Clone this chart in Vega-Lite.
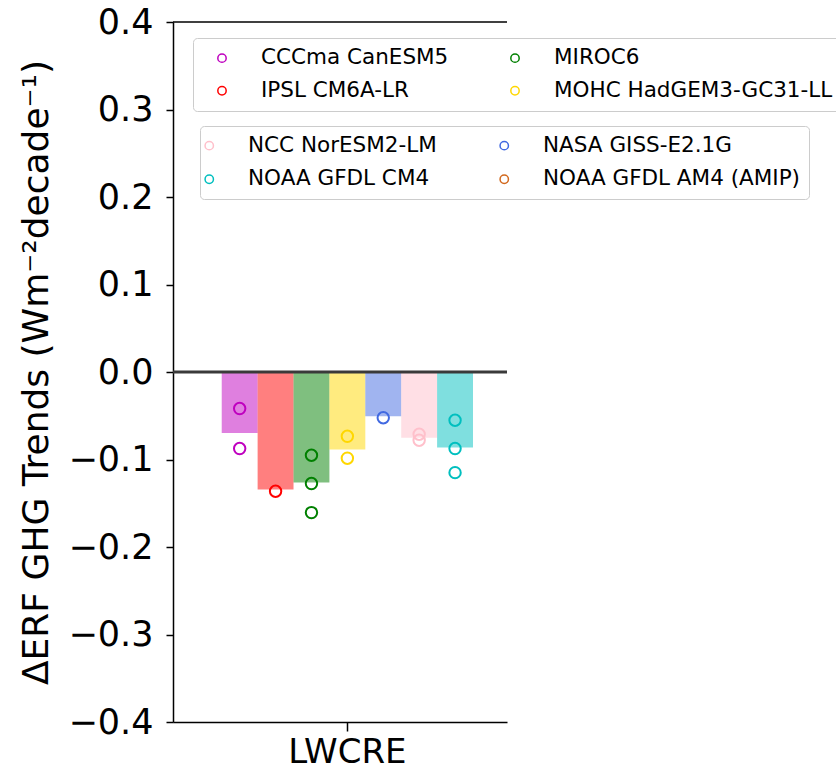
{
  "$schema": "https://vega.github.io/schema/vega-lite/v6.json",
  "width": 334,
  "height": 700,
  "autosize": {"type": "none"},
  "padding": {"left": 173, "top": 22, "right": 329, "bottom": 49},
  "background": "white",
  "config": {"view": {"stroke": null}, "font": "DejaVu Sans"},
  "datasets": {
    "bars": [
      {"variable": "LWCRE", "model": "CCCma CanESM5", "trend": -0.0697},
      {"variable": "LWCRE", "model": "IPSL CM6A-LR", "trend": -0.1344},
      {"variable": "LWCRE", "model": "MIROC6", "trend": -0.1264},
      {"variable": "LWCRE", "model": "MOHC HadGEM3-GC31-LL", "trend": -0.0887},
      {"variable": "LWCRE", "model": "NASA GISS-E2.1G", "trend": -0.0506},
      {"variable": "LWCRE", "model": "NCC NorESM2-LM", "trend": -0.075},
      {"variable": "LWCRE", "model": "NOAA GFDL CM4", "trend": -0.0864}
    ],
    "runs": [
      {"variable": "LWCRE", "model": "CCCma CanESM5", "trend": -0.0418},
      {"variable": "LWCRE", "model": "CCCma CanESM5", "trend": -0.0875},
      {"variable": "LWCRE", "model": "IPSL CM6A-LR", "trend": -0.1363},
      {"variable": "LWCRE", "model": "MIROC6", "trend": -0.0952},
      {"variable": "LWCRE", "model": "MIROC6", "trend": -0.1275},
      {"variable": "LWCRE", "model": "MIROC6", "trend": -0.1607},
      {"variable": "LWCRE", "model": "MOHC HadGEM3-GC31-LL", "trend": -0.0735},
      {"variable": "LWCRE", "model": "MOHC HadGEM3-GC31-LL", "trend": -0.0985},
      {"variable": "LWCRE", "model": "NASA GISS-E2.1G", "trend": -0.0523},
      {"variable": "LWCRE", "model": "NCC NorESM2-LM", "trend": -0.0712},
      {"variable": "LWCRE", "model": "NCC NorESM2-LM", "trend": -0.078},
      {"variable": "LWCRE", "model": "NOAA GFDL CM4", "trend": -0.0552},
      {"variable": "LWCRE", "model": "NOAA GFDL CM4", "trend": -0.0875},
      {"variable": "LWCRE", "model": "NOAA GFDL CM4", "trend": -0.115}
    ]
  },
  "layer": [
    {
      "data": {"name": "bars"},
      "mark": {"type": "bar", "opacity": 0.5},
      "encoding": {
        "x": {"field": "variable", "type": "nominal", "scale": {"paddingInner": 0, "paddingOuter": 0.1646, "align": 0.589},
          "axis": {"title": null, "labelAngle": 0, "labelFontSize": 34, "labelColor": "black", "tickSize": 9, "tickColor": "black", "tickWidth": 1.5, "domainColor": "black", "domainWidth": 1.5, "labelPadding": 4}},
        "xOffset": {"field": "model", "type": "nominal", "scale": {"domain": ["CCCma CanESM5", "IPSL CM6A-LR", "MIROC6", "MOHC HadGEM3-GC31-LL", "NASA GISS-E2.1G", "NCC NorESM2-LM", "NOAA GFDL CM4"], "paddingInner": 0, "paddingOuter": 0}},
        "y": {"field": "trend", "type": "quantitative", "scale": {"domain": [-0.4, 0.4], "nice": false, "zero": false},
          "axis": {"values": [-0.4, -0.3, -0.2, -0.1, 0, 0.1, 0.2, 0.3, 0.4], "format": ".1f", "grid": false,
            "title": "ΔERF GHG Trends (Wm⁻²decade⁻¹)", "titleFontSize": 36, "titleFontWeight": "normal", "titleColor": "black",
            "titleBaseline": "alphabetic", "titleX": -126, "titleY": 350,
            "labelFontSize": 35, "labelColor": "black", "labelPadding": 13, "tickSize": 7, "tickColor": "black", "tickWidth": 1.5,
            "domainColor": "black", "domainWidth": 1.5}},
        "color": {"field": "model", "type": "nominal", "legend": null,
          "scale": {"domain": ["CCCma CanESM5", "IPSL CM6A-LR", "MIROC6", "MOHC HadGEM3-GC31-LL", "NASA GISS-E2.1G", "NCC NorESM2-LM", "NOAA GFDL CM4"],
            "range": ["#bf00bf", "#ff0000", "#008000", "#ffd700", "#4169e1", "#ffc0cb", "#00bfbf"]}}
      }
    },
    {
      "data": {"values": [{}]},
      "mark": {"type": "rule", "color": "#3a3a3a", "strokeWidth": 3},
      "encoding": {"y": {"datum": 0}}
    },
    {
      "data": {"values": [{}]},
      "mark": {"type": "rule", "color": "black", "strokeWidth": 1.5},
      "encoding": {"y": {"datum": 0.4}}
    },
    {
      "data": {"name": "runs"},
      "transform": [{"filter": {"field": "model", "oneOf": ["CCCma CanESM5", "MIROC6", "IPSL CM6A-LR", "MOHC HadGEM3-GC31-LL"]}}],
      "mark": {"type": "point", "filled": false, "size": 130, "strokeWidth": 2, "opacity": 1},
      "encoding": {
        "x": {"field": "variable", "type": "nominal"},
        "xOffset": {"field": "model", "type": "nominal"},
        "y": {"field": "trend", "type": "quantitative"},
        "stroke": {"field": "model", "type": "nominal",
          "scale": {"domain": ["CCCma CanESM5", "IPSL CM6A-LR", "MIROC6", "MOHC HadGEM3-GC31-LL"], "range": ["#bf00bf", "#ff0000", "#008000", "#ffd700"]},
          "legend": {"orient": "none", "legendX": 20, "legendY": 16, "title": null, "columns": 2,
            "labelFontSize": 21.5, "labelColor": "black", "labelLimit": 600, "symbolType": "circle", "symbolSize": 70, "symbolStrokeWidth": 1.5,
            "symbolOffset": 9.25, "labelOffset": 28.25, "columnPadding": 46, "rowPadding": 10, "padding": 9,
            "strokeColor": "#cccccc", "fillColor": "rgba(255,255,255,0.8)", "cornerRadius": 4}}
      }
    },
    {
      "data": {"name": "runs"},
      "transform": [{"filter": {"field": "model", "oneOf": ["NCC NorESM2-LM", "NASA GISS-E2.1G", "NOAA GFDL CM4", "NOAA GFDL AM4 (AMIP)"]}}],
      "mark": {"type": "point", "filled": false, "size": 130, "strokeWidth": 2, "opacity": 1},
      "encoding": {
        "x": {"field": "variable", "type": "nominal"},
        "xOffset": {"field": "model", "type": "nominal"},
        "y": {"field": "trend", "type": "quantitative"},
        "stroke": {"field": "model", "type": "nominal",
          "scale": {"domain": ["NCC NorESM2-LM", "NOAA GFDL CM4", "NASA GISS-E2.1G", "NOAA GFDL AM4 (AMIP)"], "range": ["#ffc0cb", "#00bfbf", "#4169e1", "#d2691e"]},
          "legend": {"orient": "none", "legendX": 27, "legendY": 104, "title": null, "columns": 2,
            "labelFontSize": 21.5, "labelColor": "black", "labelLimit": 600, "symbolType": "circle", "symbolSize": 70, "symbolStrokeWidth": 1.5,
            "symbolOffset": -10, "labelOffset": 28, "columnPadding": 59, "rowPadding": 11, "padding": 8.5,
            "strokeColor": "#cccccc", "fillColor": "rgba(255,255,255,0.8)", "cornerRadius": 4}}
      }
    }
  ],
  "resolve": {"scale": {"stroke": "independent"}, "legend": {"stroke": "independent"}}
}
